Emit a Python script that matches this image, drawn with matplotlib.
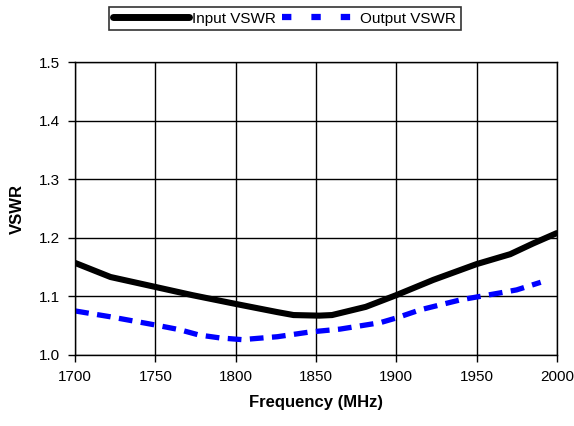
import matplotlib
matplotlib.use("Agg")
import matplotlib.pyplot as plt
from matplotlib.lines import Line2D

plt.rcParams['font.family'] = ['Liberation Sans', 'DejaVu Sans']

freq_in = [1700, 1722, 1750, 1773, 1800, 1826, 1836, 1852, 1860, 1881, 1900, 1923, 1950, 1971, 1985, 2000]
vswr_in = [1.157, 1.133, 1.116, 1.102, 1.087, 1.073, 1.068, 1.067, 1.068, 1.082, 1.102, 1.128, 1.155, 1.172, 1.190, 1.208]

freq_out = [1700, 1722, 1750, 1765, 1777, 1790, 1804, 1826, 1846, 1865, 1890, 1900, 1915, 1940, 1965, 1975, 1990]
vswr_out = [1.075, 1.065, 1.051, 1.043, 1.034, 1.029, 1.026, 1.031, 1.039, 1.044, 1.055, 1.063, 1.077, 1.094, 1.106, 1.111, 1.124]

xticks = [1700, 1750, 1800, 1850, 1900, 1950, 2000]
yticks = [1.0, 1.1, 1.2, 1.3, 1.4, 1.5]

fig = plt.figure(figsize=(5.74, 4.26), dpi=100)
ax = fig.add_axes([0.131, 0.167, 0.839, 0.687])

ax.plot(freq_in, vswr_in, color='black', lw=4.4, solid_capstyle='round',
        solid_joinstyle='round', label='Input VSWR')
ax.plot(freq_out, vswr_out, color='#0000ff', lw=3.8, dashes=(2.6, 1.6),
        dash_joinstyle='round', label='Output VSWR')

ax.set_xlim(1700, 2000)
ax.set_ylim(1.0, 1.5)
ax.set_xticks(xticks)
ax.set_xticklabels([str(v) for v in xticks])
ax.set_yticks(yticks)
ax.set_yticklabels([f"{v:.1f}" for v in yticks])
ax.grid(True, color='black', lw=1.0)
ax.set_axisbelow(True)
for s in ax.spines.values():
    s.set_linewidth(1.0)
ax.tick_params(direction='out', length=5, width=1.0, labelsize=11, pad=6)
ax.set_xlabel('Frequency (MHz)', fontsize=12, fontweight='bold', labelpad=8)
ax.set_ylabel('VSWR', fontsize=12, fontweight='bold', labelpad=10)

handles = [Line2D([], [], color='black', lw=5, solid_capstyle='round'),
           Line2D([], [], color='#0000ff', lw=4.5, dashes=(1.5, 3.2))]
leg = fig.legend(handles, ['Input VSWR', 'Output VSWR'], loc='upper center',
                 bbox_to_anchor=(0.496, 0.983), ncol=2, frameon=True,
                 fancybox=False, edgecolor='black', fontsize=11, handlelength=5.0,
                 handletextpad=0.15, columnspacing=0.4, borderpad=0.3, borderaxespad=0)
leg.get_frame().set_linewidth(1.2)

fig.savefig('out.png', dpi=100)
